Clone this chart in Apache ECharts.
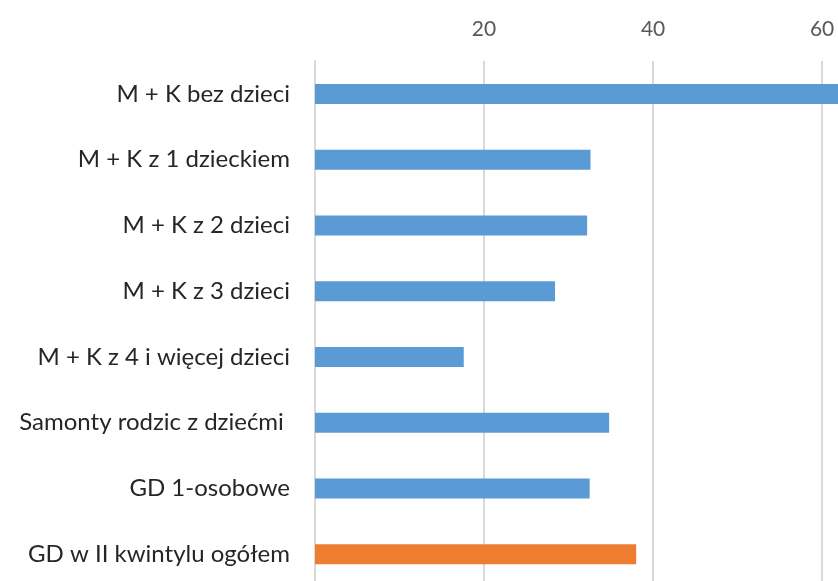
<!DOCTYPE html>
<html>
<head>
<meta charset="utf-8">
<script src="https://cdn.jsdelivr.net/npm/echarts@6/dist/echarts.min.js"></script>
<style>html,body{margin:0;padding:0;background:#fff;}#c{width:838px;height:581px;}</style>
</head>
<body>
<div id="c"></div>
<script>
const categories = ["M + K bez dzieci", "M + K z 1 dzieckiem", "M + K z 2 dzieci", "M + K z 3 dzieci", "M + K z 4 i więcej dzieci", "Samonty rodzic z dziećmi ", "GD 1-osobowe", "GD w II kwintylu ogółem"];
const values = [63, 32.6, 32.2, 28.4, 17.6, 34.8, 32.5, 38.0];
const barColors = ["#5B9BD5", "#5B9BD5", "#5B9BD5", "#5B9BD5", "#5B9BD5", "#5B9BD5", "#5B9BD5", "#ED7D31"];
const tickLabels = ["", "20", "40", "60"];

const chart = echarts.init(document.getElementById('c'));
chart.setOption({
  animation: false,
  grid: { left: 315, top: 61, right: -1, bottom: -6, outerBoundsMode: 'none' },
  xAxis: {
    type: 'value', position: 'top', min: 0, max: 62, interval: 20,
    axisLine: { show: false }, axisTick: { show: false },
    axisLabel: {
      showMinLabel: false, showMaxLabel: false,
      formatter: v => tickLabels[Math.round(v / 20)] || '',
      fontFamily: 'Lato', fontSize: 21, color: '#595959', margin: 21
    },
    splitLine: { lineStyle: { color: '#D9D9D9', width: 2 } }
  },
  yAxis: {
    type: 'category', data: categories, inverse: true,
    axisLine: { show: true, lineStyle: { color: '#D9D9D9', width: 2 } },
    axisTick: { show: false },
    axisLabel: { fontFamily: 'Lato', fontSize: 24, color: '#262626', margin: 25 }
  },
  series: [{
    type: 'bar', barWidth: 20,
    data: values.map((v, i) => ({ value: v, itemStyle: { color: barColors[i] } }))
  }]
});
</script>
</body>
</html>
